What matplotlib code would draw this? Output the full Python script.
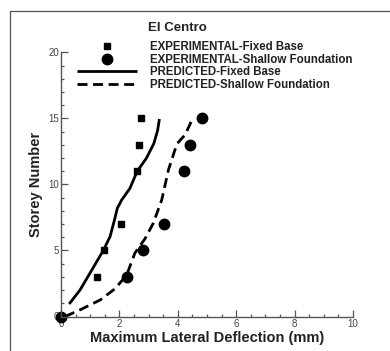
import matplotlib.pyplot as plt
from matplotlib.lines import Line2D

plt.rcParams['font.family'] = ['Liberation Sans', 'DejaVu Sans']

# measured storey deflections (mm)
exp_storey = [0, 3, 5, 7, 11, 13, 15]
exp_fixed = [0, 1.22, 1.48, 2.05, 2.61, 2.68, 2.74]
exp_shallow = [0, 2.25, 2.82, 3.54, 4.22, 4.42, 4.82]

# predicted profiles
pred_fixed_storey = [0.95, 2.0, 3.5, 5.0, 6.05, 7.3, 8.2, 8.83, 9.7, 11.0,
                     12.0, 13.1, 14.1, 14.95]
pred_fixed = [0.28, 0.65, 1.05, 1.45, 1.68, 1.83, 1.93, 2.08, 2.36, 2.61,
              2.93, 3.18, 3.31, 3.37]
pred_shallow_storey = [0, 0.5, 1.25, 2.1, 3.14, 4.8, 5.9, 7.06, 8.83, 11.1,
                       12.6, 13.1, 13.75, 15.0]
pred_shallow = [0.14, 0.65, 1.34, 1.85, 2.25, 2.53, 2.88, 3.16, 3.45, 3.68,
                3.90, 3.98, 4.25, 4.51]

fig = plt.figure(figsize=(3.9, 3.51), dpi=100)
ax = fig.add_axes([61/390, 1 - 316.5/351, 292/390, 264.2/351])

ax.plot(pred_fixed, pred_fixed_storey, color='black', lw=2.0,
        solid_capstyle='butt', label='PREDICTED-Fixed Base')
ax.plot(pred_shallow, pred_shallow_storey, color='black', lw=2.0,
        dashes=(3.6, 2.0), label='PREDICTED-Shallow Foundation')
ax.plot(exp_fixed, exp_storey, 's', color='black', ms=5,
        label='EXPERIMENTAL-Fixed Base', clip_on=False)
ax.plot(exp_shallow, exp_storey, 'o', color='black', ms=7.5,
        label='EXPERIMENTAL-Shallow Foundation', clip_on=False)

ax.set_xlim(0, 10)
ax.set_ylim(0, 20)
ax.set_xticks([0, 2, 4, 6, 8, 10])
ax.set_xticks([x * 0.5 for x in range(21)], minor=True)
ax.set_yticks([0, 5, 10, 15, 20])
ax.set_yticks(range(21), minor=True)
ax.tick_params(which='both', direction='in', colors='#555555',
               labelcolor='#444444', labelsize=7, width=0.9, pad=1.5)
ax.tick_params(which='major', length=5)
ax.tick_params(which='minor', length=2.5)
for side in ['top', 'right']:
    ax.spines[side].set_visible(False)
for side in ['left', 'bottom']:
    ax.spines[side].set_color('#555555')
    ax.spines[side].set_linewidth(1.0)

ax.set_xlabel('Maximum Lateral Deflection (mm)', fontsize=10.5,
              fontweight='bold', color='#222222', labelpad=1.5)
ax.set_ylabel('Storey Number', fontsize=10.5, fontweight='bold',
              color='#222222', labelpad=4)

# legend: markers first, then lines
h, l = ax.get_legend_handles_labels()
order = [2, 3, 0, 1]
fig.legend([h[i] for i in order], [l[i] for i in order],
           loc='upper left', bbox_to_anchor=(77/390, 1 - 41/351),
           frameon=False, prop={'size': 8.3, 'weight': 'bold'},
           handlelength=5.2, handletextpad=1.1, labelspacing=0.05,
           borderpad=0, borderaxespad=0, labelcolor='#222222')
fig.text(148/390, 1 - 28/351, 'El Centro', fontsize=9.5,
         fontweight='bold', color='#222222', va='center')

# outer frame
fig.add_artist(Line2D([10/390, 10/390, 1], [0, 1 - 10.5/351, 1 - 10.5/351],
                      transform=fig.transFigure, color='#555555', lw=0.9))

fig.savefig('out.png', dpi=100)
